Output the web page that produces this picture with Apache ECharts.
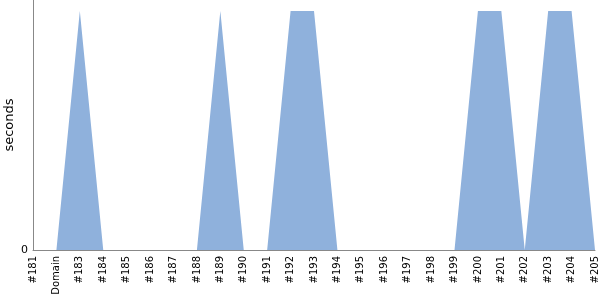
<!DOCTYPE html>
<html><head><meta charset="utf-8">
<script src="https://cdn.jsdelivr.net/npm/echarts@6/dist/echarts.min.js"></script>
<style>html,body{margin:0;padding:0;background:#fff}#c{width:600px;height:300px}</style>
</head><body><div id="c"></div>
<script>
var categories = ['#181','Domain','#183','#184','#185','#186','#187','#188','#189','#190','#191','#192','#193','#194','#195','#196','#197','#198','#199','#200','#201','#202','#203','#204','#205'];
var seconds = [0,0,1,0,0,0,0,0,1,0,0,1,1,0,0,0,0,0,0,1,1,0,1,1,0];
var yTickLabels = ['0'];

var chart = echarts.init(document.getElementById('c'), null, {renderer:'canvas'});
chart.setOption({
  animation:false,
  grid:{left:33,right:5,top:0,bottom:50,containLabel:false,outerBoundsMode:'none'},
  xAxis:{type:'category',data:categories,boundaryGap:false,
    axisLine:{lineStyle:{color:'#888',width:1}},
    axisTick:{show:false},
    axisLabel:{rotate:90,color:'#000',fontSize:10,fontFamily:'DejaVu Sans',interval:0,margin:6}},
  yAxis:{type:'value',min:0,max:1.046,name:'seconds',nameLocation:'middle',nameGap:17,nameMoveOverlap:false,
    nameTextStyle:{color:'#000',fontSize:13,fontFamily:'DejaVu Sans'},
    splitLine:{show:false},
    axisLine:{show:true,lineStyle:{color:'#888',width:1}},
    axisTick:{show:false},
    axisLabel:{color:'#000',fontSize:11,fontFamily:'DejaVu Sans',margin:5,
      formatter:function(v){return yTickLabels.indexOf(String(v))>=0?String(v):'';}}},
  series:[{type:'line',data:seconds,symbol:'none',lineStyle:{width:0},
    areaStyle:{color:'#8fb1dc',opacity:1}}]
});
</script></body></html>
